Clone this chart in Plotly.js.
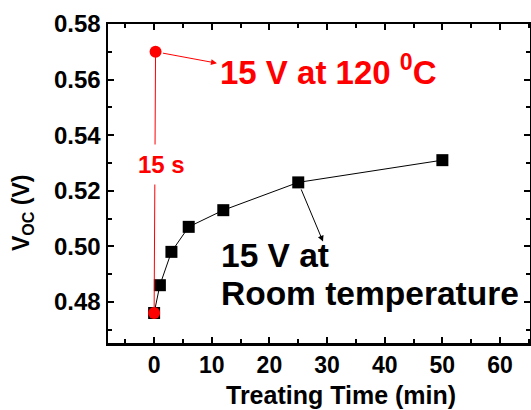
<!DOCTYPE html>
<html>
<head>
<meta charset="utf-8">
<script src="https://cdn.plot.ly/plotly-3.0.1.min.js"></script>
<style>html,body{margin:0;padding:0;background:#fff;}#chart{width:531px;height:410px;}</style>
</head>
<body>
<div id="chart"></div>
<script>
// Room-temperature treatment series (black squares)
const rtTime = [0, 1, 3, 6, 12, 25, 50];
const rtVoc = [0.476, 0.486, 0.498, 0.507, 0.513, 0.523, 0.531];
// 120 C treatment series (red circles), 15 s = 0.25 min
const hotTime = [0, 0.25];
const hotVoc = [0.476, 0.570];

const FONT = 'Arial, "Liberation Sans", Helvetica, sans-serif';

const traces = [
  {
    x: rtTime, y: rtVoc, mode: 'lines+markers', type: 'scatter',
    line: {color: '#000', width: 1},
    marker: {symbol: 'square', size: 12, color: '#000'},
    showlegend: false, hoverinfo: 'skip'
  },
  {
    x: hotTime, y: hotVoc, mode: 'lines+markers', type: 'scatter',
    line: {color: '#ff0000', width: 1},
    marker: {symbol: 'circle', size: 12, color: '#ff0000'},
    showlegend: false, hoverinfo: 'skip'
  }
];

const axisCommon = {
  showgrid: false, zeroline: false, showline: true, linecolor: '#000', linewidth: 2.5,
  mirror: 'ticks', ticks: 'inside', ticklen: 6, tickwidth: 2, tickcolor: '#000'
};

const layout = {
  width: 531, height: 410,
  margin: {l: 108, r: 1, t: 24, b: 67},
  paper_bgcolor: '#fff', plot_bgcolor: '#fff',
  xaxis: Object.assign({}, axisCommon, {
    range: [-8, 65.2], dtick: 10, tick0: 0,
    tickfont: {family: FONT, size: 23, color: '#000', weight: 'bold'},
    minor: {ticks: 'inside', dtick: 5, ticklen: 4, tickwidth: 2, tickcolor: '#000'}
  }),
  yaxis: Object.assign({}, axisCommon, {
    range: [0.4652, 0.58], dtick: 0.02, tick0: 0.48, tickformat: '.2f',
    tickfont: {family: FONT, size: 24, color: '#000', weight: 'bold'},
    minor: {ticks: 'inside', dtick: 0.01, ticklen: 4, tickwidth: 2, tickcolor: '#000'}
  }),
  annotations: [
    {xref: 'paper', yref: 'paper', x: 0.552, y: -0.163, xanchor: 'center', yanchor: 'middle',
     text: 'Treating Time (min)', showarrow: false,
     font: {family: FONT, size: 25, color: '#000', weight: 'bold'}},
    {xref: 'paper', yref: 'paper', x: -0.204, y: 0.41, xanchor: 'center', yanchor: 'middle',
     textangle: -90, text: 'V<sub>OC</sub> (V)', showarrow: false,
     font: {family: FONT, size: 23, color: '#000', weight: 'bold'}},
    {xref: 'x', yref: 'y', x: 11.0, y: 0.5635, xanchor: 'left', yanchor: 'middle',
     text: '15 V at 120 <sup>0</sup>C', showarrow: false,
     font: {family: FONT, size: 33, color: '#ff0000', weight: 'bold'}},
    {xref: 'x', yref: 'y', x: 1.3, y: 0.5296, xanchor: 'center', yanchor: 'middle',
     text: '15 s', showarrow: false, bgcolor: '#fff', borderpad: 6,
     font: {family: FONT, size: 24, color: '#ff0000', weight: 'bold'}},
    {xref: 'x', yref: 'y', x: 11.4, y: 0.4968, xanchor: 'left', yanchor: 'middle',
     text: '15 V at', showarrow: false, borderpad: 0,
     font: {family: FONT, size: 33.5, color: '#000', weight: 'bold'}},
    {xref: 'x', yref: 'y', x: 11.4, y: 0.4830, xanchor: 'left', yanchor: 'middle',
     text: 'Room temperature', showarrow: false, borderpad: 0,
     font: {family: FONT, size: 33.5, color: '#000', weight: 'bold'}},
    {xref: 'x', yref: 'y', axref: 'x', ayref: 'y', x: 10.9, y: 0.5659, ax: 0.25, ay: 0.570,
     text: '', showarrow: true, arrowhead: 2, arrowsize: 1.2, arrowwidth: 1, arrowcolor: '#ff0000',
     startstandoff: 6, standoff: 0},
    {xref: 'x', yref: 'y', axref: 'x', ayref: 'y', x: 29.3, y: 0.5017, ax: 25, ay: 0.523,
     text: '', showarrow: true, arrowhead: 2, arrowsize: 1.2, arrowwidth: 1, arrowcolor: '#000',
     startstandoff: 6, standoff: 0}
  ]
};

Plotly.newPlot('chart', traces, layout, {displayModeBar: false, staticPlot: true});
</script>
</body>
</html>
